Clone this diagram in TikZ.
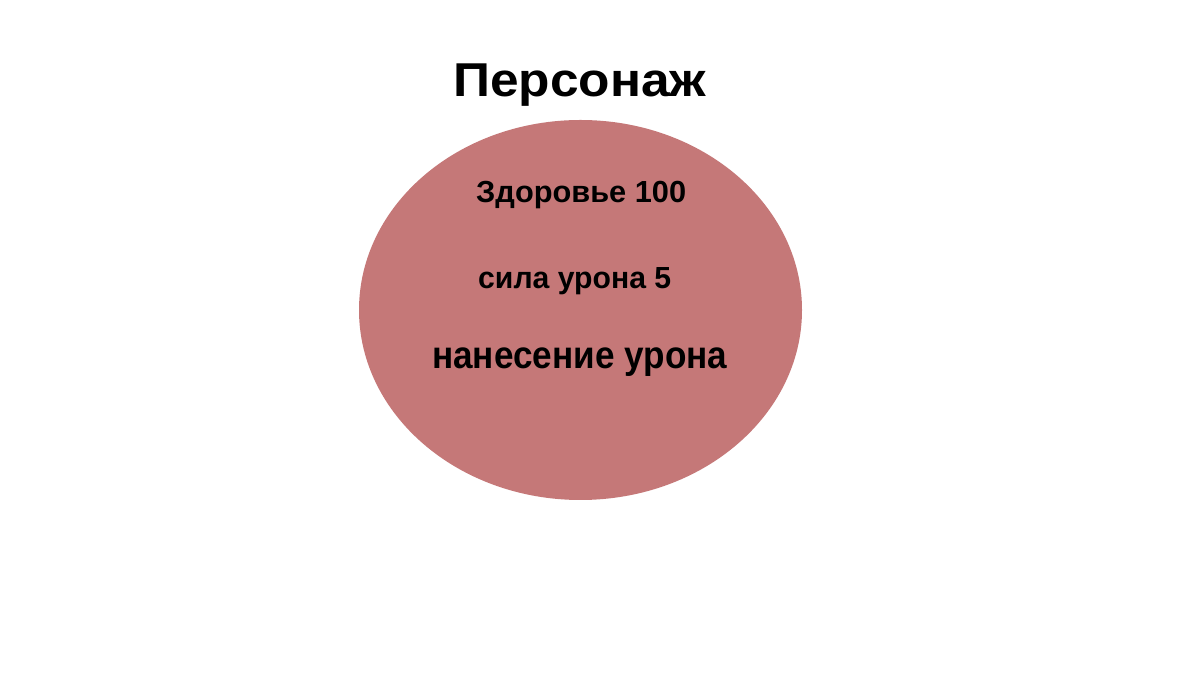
\documentclass[tikz,border=0pt]{standalone}
\usepackage{fontspec}
\usepackage{graphicx}
\usetikzlibrary{shapes.geometric}
\setmainfont{Liberation Sans}
\definecolor{blob}{RGB}{197,120,120}
\newcommand{\fitw}[2]{\resizebox{#1}{\height}{#2}}
\begin{document}
\begin{tikzpicture}[x=1bp,y=1bp,
  lbl/.style={inner sep=0pt,anchor=base west,text=black,font=\bfseries}]
\useasboundingbox (0,0) rectangle (1200,675);
\fill[white] (0,0) rectangle (1200,675);
\node[ellipse,fill=blob,minimum width=443bp,minimum height=380bp,inner sep=0pt] (body) at (580.5,365) {};
\node[lbl] (title) at (453,578) {\fontsize{47.5bp}{50bp}\selectfont\fitw{253bp}{Персонаж}};
\node[lbl] (hp) at (476,472) {\fontsize{30.5bp}{32bp}\selectfont\fitw{210bp}{Здоровье 100}};
\node[lbl] (dmg) at (478,386) {\fontsize{30.5bp}{32bp}\selectfont\fitw{193bp}{сила урона 5}};
\node[lbl] (act) at (432,306) {\fontsize{38.5bp}{40bp}\selectfont\fitw{295bp}{нанесение урона}};
\end{tikzpicture}
\end{document}
